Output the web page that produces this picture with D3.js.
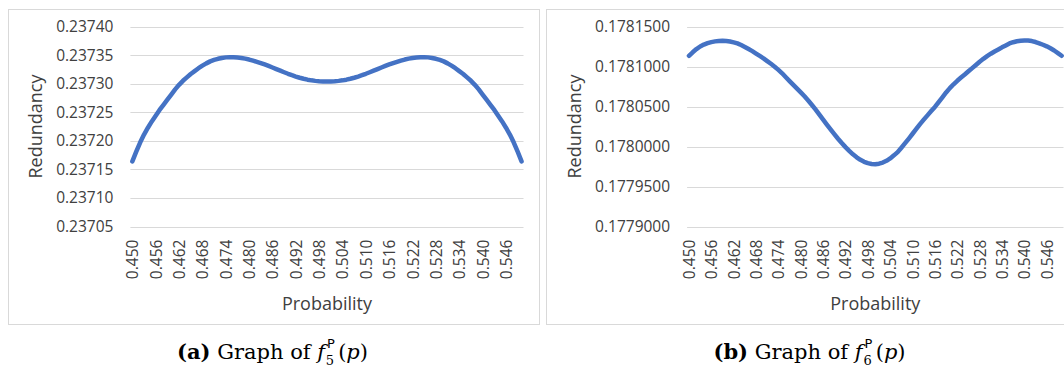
<!DOCTYPE html>
<html>
<head>
<meta charset="utf-8">
<script src="https://cdn.jsdelivr.net/npm/d3@7"></script>
<style>
    body { margin: 0; background: #ffffff; }
</style>
</head>
<body>
<div id="root"></div>
<script>
// categories on the x axis (Excel category axis, one per 0.001)
var probability = [
    "0.450", "0.451", "0.452", "0.453", "0.454", "0.455", "0.456", "0.457", "0.458", "0.459",
    "0.460", "0.461", "0.462", "0.463", "0.464", "0.465", "0.466", "0.467", "0.468", "0.469",
    "0.470", "0.471", "0.472", "0.473", "0.474", "0.475", "0.476", "0.477", "0.478", "0.479",
    "0.480", "0.481", "0.482", "0.483", "0.484", "0.485", "0.486", "0.487", "0.488", "0.489",
    "0.490", "0.491", "0.492", "0.493", "0.494", "0.495", "0.496", "0.497", "0.498", "0.499",
    "0.500", "0.501", "0.502", "0.503", "0.504", "0.505", "0.506", "0.507", "0.508", "0.509",
    "0.510", "0.511", "0.512", "0.513", "0.514", "0.515", "0.516", "0.517", "0.518", "0.519",
    "0.520", "0.521", "0.522", "0.523", "0.524", "0.525", "0.526", "0.527", "0.528", "0.529",
    "0.530", "0.531", "0.532", "0.533", "0.534", "0.535", "0.536", "0.537", "0.538", "0.539",
    "0.540", "0.541", "0.542", "0.543", "0.544", "0.545", "0.546", "0.547", "0.548", "0.549",
    "0.550"
];

// only every 6th category gets a label
var xTickLabels = [
    "0.450", "0.456", "0.462", "0.468", "0.474", "0.480", "0.486", "0.492", "0.498",
    "0.504", "0.510", "0.516", "0.522", "0.528", "0.534", "0.540", "0.546"
];

// (a) f5 redundancy
var redundancy5 = [
    0.2371640, 0.2371810, 0.2371970, 0.2372110, 0.2372230, 0.2372340, 0.2372440, 0.2372540, 0.2372630, 0.2372720,
    0.2372810, 0.2372900, 0.2372980, 0.2373050, 0.2373110, 0.2373170, 0.2373220, 0.2373270, 0.2373315, 0.2373355,
    0.2373390, 0.2373415, 0.2373435, 0.2373450, 0.2373460, 0.2373463, 0.2373462, 0.2373457, 0.2373450, 0.2373438,
    0.2373422, 0.2373403, 0.2373382, 0.2373360, 0.2373336, 0.2373310, 0.2373283, 0.2373255, 0.2373227, 0.2373200,
    0.2373173, 0.2373148, 0.2373125, 0.2373104, 0.2373086, 0.2373070, 0.2373058, 0.2373049, 0.2373043, 0.2373040,
    0.2373039, 0.2373040, 0.2373043, 0.2373049, 0.2373058, 0.2373070, 0.2373086, 0.2373104, 0.2373125, 0.2373148,
    0.2373173, 0.2373200, 0.2373227, 0.2373255, 0.2373283, 0.2373310, 0.2373336, 0.2373360, 0.2373382, 0.2373403,
    0.2373422, 0.2373438, 0.2373450, 0.2373457, 0.2373462, 0.2373463, 0.2373460, 0.2373450, 0.2373435, 0.2373415,
    0.2373390, 0.2373355, 0.2373315, 0.2373270, 0.2373220, 0.2373170, 0.2373110, 0.2373050, 0.2372980, 0.2372900,
    0.2372810, 0.2372720, 0.2372630, 0.2372540, 0.2372440, 0.2372340, 0.2372230, 0.2372110, 0.2371970, 0.2371810,
    0.2371640
];

// (b) f6 redundancy
var redundancy6 = [
    0.1781134, 0.1781178, 0.1781218, 0.1781250, 0.1781274, 0.1781292, 0.1781305, 0.1781314, 0.1781320, 0.1781322,
    0.1781319, 0.1781312, 0.1781302, 0.1781289, 0.1781268, 0.1781244, 0.1781218, 0.1781192, 0.1781162, 0.1781132,
    0.1781102, 0.1781068, 0.1781034, 0.1780998, 0.1780958, 0.1780915, 0.1780866, 0.1780818, 0.1780771, 0.1780724,
    0.1780677, 0.1780628, 0.1780576, 0.1780520, 0.1780462, 0.1780400, 0.1780337, 0.1780275, 0.1780214, 0.1780155,
    0.1780098, 0.1780044, 0.1779993, 0.1779946, 0.1779903, 0.1779866, 0.1779834, 0.1779810, 0.1779793, 0.1779783,
    0.1779779, 0.1779786, 0.1779800, 0.1779822, 0.1779852, 0.1779890, 0.1779930, 0.1779985, 0.1780042, 0.1780100,
    0.1780160, 0.1780220, 0.1780280, 0.1780336, 0.1780390, 0.1780443, 0.1780495, 0.1780555, 0.1780615, 0.1780676,
    0.1780730, 0.1780778, 0.1780822, 0.1780862, 0.1780900, 0.1780940, 0.1780980, 0.1781020, 0.1781060, 0.1781096,
    0.1781130, 0.1781160, 0.1781188, 0.1781212, 0.1781240, 0.1781264, 0.1781288, 0.1781304, 0.1781315, 0.1781322,
    0.1781325, 0.1781324, 0.1781318, 0.1781306, 0.1781290, 0.1781272, 0.1781252, 0.1781228, 0.1781200, 0.1781168,
    0.1781134
];

var yTicks5 = [0.23705, 0.23710, 0.23715, 0.23720, 0.23725, 0.23730, 0.23735, 0.23740];
var yTicks6 = [0.1779000, 0.1779500, 0.1780000, 0.1780500, 0.1781000, 0.1781500];

var labelColor = "#404040";
var gridColor = "#d9d9d9";
var lineColor = "#4472c4";

var svg = d3
    .select("#root")
    .append("svg")
    .attr("width", 1064)
    .attr("height", 372);

// light frames round each chart
svg.append("rect")
    .attr("x", 8.5)
    .attr("y", 9.5)
    .attr("width", 531)
    .attr("height", 315)
    .style("fill", "none")
    .style("stroke", gridColor);
svg.append("rect")
    .attr("x", 546.5)
    .attr("y", 9.5)
    .attr("width", 531)
    .attr("height", 315)
    .style("fill", "none")
    .style("stroke", gridColor);

function drawChart(cfg) {
    var yTicks = cfg.yTicks;

    var x = d3.scalePoint()
        .domain(probability)
        .range([cfg.left, cfg.right])
        .padding(0.5);

    var y = d3.scaleLinear()
        .domain([yTicks[0], yTicks[yTicks.length - 1]])
        .range([cfg.bottom, cfg.top]);

    var g = svg.append("g");

    // gridlines
    g.append("g")
        .selectAll("line")
        .data(yTicks)
        .enter()
        .append("line")
        .attr("x1", cfg.left)
        .attr("x2", cfg.right)
        .attr("y1", (d) => Math.round(y(d)) + 0.5)
        .attr("y2", (d) => Math.round(y(d)) + 0.5)
        .style("stroke", gridColor)
        .style("stroke-width", 1);

    // y axis labels
    var yAxis = d3.axisLeft(y)
        .tickValues(yTicks)
        .tickSize(0)
        .tickPadding(17)
        .tickFormat(d3.format(cfg.yFormat));
    g.append("g")
        .attr("transform", "translate(" + cfg.left + ",0)")
        .call(yAxis)
        .call((a) => a.select(".domain").remove())
        .selectAll("text")
        .style("font-family", "Open Sans")
        .style("font-size", "15.5px")
        .style("fill", labelColor);

    // x axis labels, rotated
    var xAxis = d3.axisBottom(x)
        .tickValues(xTickLabels)
        .tickSize(0);
    g.append("g")
        .attr("transform", "translate(0," + cfg.bottom + ")")
        .call(xAxis)
        .call((a) => a.select(".domain").remove())
        .selectAll("text")
        .attr("transform", "rotate(-90)")
        .attr("text-anchor", "end")
        .attr("x", -13)
        .attr("y", 0)
        .attr("dy", "0.35em")
        .style("font-family", "Open Sans")
        .style("font-size", "15.5px")
        .style("fill", labelColor);

    // the series
    var line = d3.line()
        .x((d, i) => x(probability[i]))
        .y((d) => y(d));
    g.append("path")
        .datum(cfg.values)
        .attr("d", line)
        .style("fill", "none")
        .style("stroke", lineColor)
        .style("stroke-width", 4.5)
        .style("stroke-linejoin", "round")
        .style("stroke-linecap", "round");

    // axis titles
    g.append("text")
        .attr("x", (cfg.left + cfg.right) / 2)
        .attr("y", 310)
        .attr("text-anchor", "middle")
        .style("font-family", "Open Sans")
        .style("font-size", "18px")
        .style("fill", labelColor)
        .text("Probability");
    g.append("text")
        .attr("transform", "translate(" + cfg.titleX + "," + (cfg.top + cfg.bottom) / 2 + ") rotate(-90)")
        .attr("text-anchor", "middle")
        .attr("dy", "0.35em")
        .style("font-family", "Open Sans")
        .style("font-size", "18px")
        .style("fill", labelColor)
        .text("Redundancy");
}

drawChart({
    left: 130.4, right: 523.5, top: 26.5, bottom: 226.6,
    values: redundancy5, yTicks: yTicks5, yFormat: ".5f", titleX: 36
});
drawChart({
    left: 687.1, right: 1063.5, top: 26.5, bottom: 226.6,
    values: redundancy6, yTicks: yTicks6, yFormat: ".7f", titleX: 575
});

// LaTeX style captions under each chart
function caption(cx, letter, sub) {
    var t = svg.append("text")
        .attr("x", cx)
        .attr("y", 359)
        .attr("text-anchor", "middle")
        .style("font-family", "DejaVu Serif")
        .style("font-size", "21px")
        .style("fill", "#000");
    t.append("tspan").style("font-weight", "bold").text("(" + letter + ")");
    t.append("tspan").text(" Graph of ");
    t.append("tspan").style("font-style", "italic").text("f");
    t.append("tspan")
        .attr("dx", 2)
        .attr("dy", -11)
        .style("font-family", "DejaVu Sans")
        .style("font-size", "13px")
        .text("P");
    t.append("tspan")
        .attr("dx", -9)
        .attr("dy", 17)
        .style("font-size", "13px")
        .text(sub);
    t.append("tspan").attr("dx", 4).attr("dy", -6).text("(");
    t.append("tspan").style("font-style", "italic").text("p");
    t.append("tspan").text(")");
}
caption(272.5, "a", "5");
caption(809.5, "b", "6");
</script>
</body>
</html>
